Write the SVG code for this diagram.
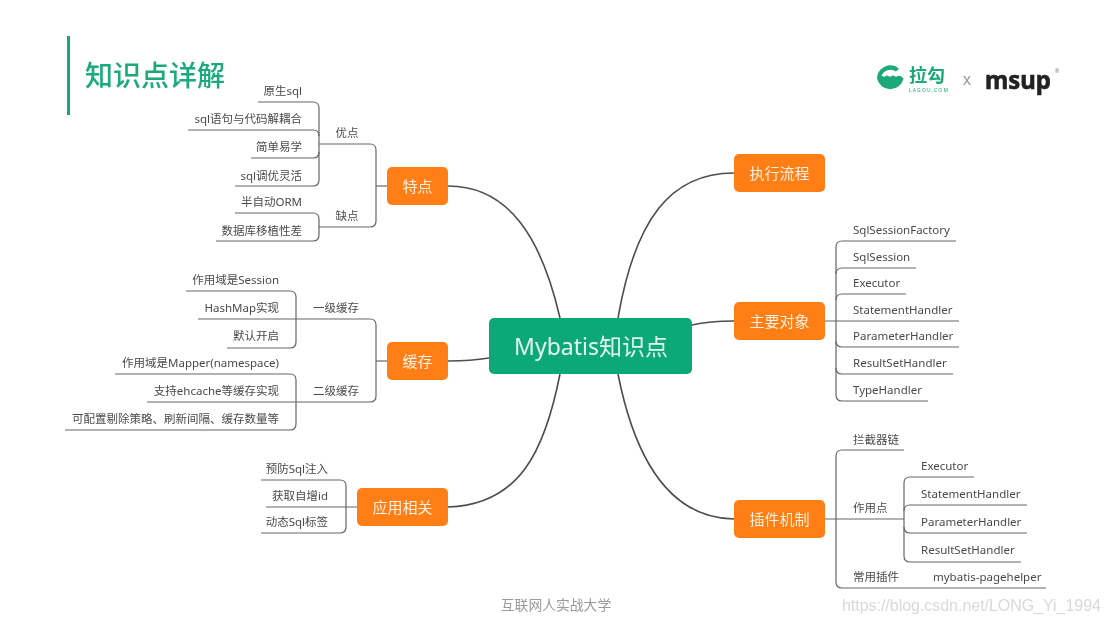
<svg xmlns="http://www.w3.org/2000/svg" width="1110" height="623" viewBox="0 0 1110 623">
<defs><filter id="soft" x="0" y="0" width="1" height="1"><feGaussianBlur stdDeviation="0.35"/></filter><style>
text{font-family:"Noto Sans","Noto Sans CJK SC",sans-serif;dominant-baseline:central}
.t{font-size:11.5px;fill:#4a4a4a}
.r{text-anchor:end}
.m{text-anchor:middle}
.n{fill:#ff7f17}
.nt{font-size:15px;fill:#fff1e2;text-anchor:middle}
.l{fill:none;stroke:#666;stroke-width:1.2}
.c{fill:none;stroke:#4d4d4d;stroke-width:1.6}
</style></defs>
<rect width="1110" height="623" fill="#fff"/>
<g filter="url(#soft)">
<g id="header">
<rect x="67" y="36" width="3" height="79" fill="#16a97c"/>
<text x="85" y="75" font-size="28" fill="#1ba97c" font-weight="500">知识点详解</text>
</g>
<g id="logos">
<path d="M877 79A13.500 13.500 0 0 1 899 68.500L896 71.500A9.500 9.500 0 0 0 881 79Z" fill="#1aa97a"/>
<path d="M877 78Q880.500 74 884 77Q887 74 890 77Q893 74 896 77Q900 74 903.500 78.500A13.500 13.500 0 0 1 877 78Z" fill="#1aa97a"/>
<text x="909" y="75" font-size="18" fill="#1aa97a" font-weight="700">拉勾</text>
<text x="909" y="90" font-size="5" fill="#1aa97a" textLength="39">LAGOU.COM</text>
<text x="967" y="79" font-size="16" fill="#999" class="m">x</text>
<text x="985" y="79" font-size="24.500" fill="#222" font-weight="700" stroke="#222" stroke-width="0.6" textLength="66" lengthAdjust="spacingAndGlyphs">msup</text>
<text x="1057" y="71" font-size="6" fill="#888" class="m">®</text>
</g>
<g id="connectors">
<path class="c" d="M448 186C510 186 542 240 560 318"/>
<path class="c" d="M448 361C465 361 477 360 489 358"/>
<path class="c" d="M448 507C520 505 545 450 560 374"/>
<path class="c" d="M734 173C670 173 635 220 618 318"/>
<path class="c" d="M692 325C705 322 718 321 734 321"/>
<path class="c" d="M734 519C670 518 635 460 618 374"/>
<path class="l" d="M387 186H376"/>
<path class="l" d="M319 144H370Q376 144 376 150V221Q376 227 370 227H319"/>
<path class="l" d="M258 102H313Q319 102 319 108V180Q319 186 313 186H235"/>
<path class="l" d="M188 130H313Q319 130 319 136"/>
<path class="l" d="M251 158H313Q319 158 319 152"/>
<path class="l" d="M235 213H313Q319 213 319 219V235Q319 241 313 241H216"/>
<path class="l" d="M387 361H376"/>
<path class="l" d="M198 319H370Q376 319 376 325V396Q376 402 370 402H147"/>
<path class="l" d="M186 291H290Q296 291 296 297V342Q296 348 290 348H227"/>
<path class="l" d="M115 374H290Q296 374 296 380V424Q296 430 290 430H65"/>
<path class="l" d="M266 507H357"/>
<path class="l" d="M261 480H340Q346 480 346 486V527Q346 533 340 533H261"/>
<path class="l" d="M825 321H959"/>
<path class="l" d="M956 241H842Q836 241 836 247V395Q836 401 842 401H928"/>
<path class="l" d="M916 268H842Q836 268 836 274"/>
<path class="l" d="M906 294H842Q836 294 836 300"/>
<path class="l" d="M959 347H842Q836 347 836 341"/>
<path class="l" d="M953 374H842Q836 374 836 368"/>
<path class="l" d="M825 519H904"/>
<path class="l" d="M904 450H842Q836 450 836 456V582Q836 588 842 588H1046"/>
<path class="l" d="M974 477H910Q904 477 904 483V556Q904 562 910 562H1021"/>
<path class="l" d="M1027 505H910Q904 505 904 511"/>
<path class="l" d="M1027 533H910Q904 533 904 527"/>
</g>
<g id="center"><rect x="489" y="318" width="203" height="56" rx="5" fill="#10a878"/><text x="591" y="345.500" font-size="23" fill="#e2f7ee" class="m">Mybatis知识点</text></g>
<g id="node-features"><rect class="n" x="387" y="167" width="61" height="38" rx="5"/><text class="nt" x="417.500" y="185.500">特点</text></g>
<g id="node-cache"><rect class="n" x="387" y="342" width="61" height="38" rx="5"/><text class="nt" x="417.500" y="360.500">缓存</text></g>
<g id="node-app"><rect class="n" x="357" y="488" width="91" height="38" rx="5"/><text class="nt" x="402.500" y="506.500">应用相关</text></g>
<g id="node-flow"><rect class="n" x="734" y="154" width="91" height="38" rx="5"/><text class="nt" x="779.500" y="172.500">执行流程</text></g>
<g id="node-objects"><rect class="n" x="734" y="302" width="91" height="38" rx="5"/><text class="nt" x="779.500" y="320.500">主要对象</text></g>
<g id="node-plugins"><rect class="n" x="734" y="500" width="91" height="38" rx="5"/><text class="nt" x="779.500" y="518.500">插件机制</text></g>
<g id="labels-features">
<text class="t r" x="302" y="90.500">原生sql</text>
<text class="t r" x="302" y="118.500">sql语句与代码解耦合</text>
<text class="t r" x="302" y="146.500">简单易学</text>
<text class="t r" x="302" y="175.500">sql调优灵活</text>
<text class="t r" x="302" y="201.500">半自动ORM</text>
<text class="t r" x="302" y="230.500">数据库移植性差</text>
<text class="t m" x="347" y="132.500">优点</text>
<text class="t m" x="347" y="215.500">缺点</text>
</g>
<g id="labels-cache">
<text class="t r" x="279" y="279.500">作用域是Session</text>
<text class="t r" x="279" y="307.500">HashMap实现</text>
<text class="t r" x="279" y="335.500">默认开启</text>
<text class="t r" x="279" y="362.500">作用域是Mapper(namespace)</text>
<text class="t r" x="279" y="390.500">支持ehcache等缓存实现</text>
<text class="t r" x="279" y="418.500">可配置剔除策略、刷新间隔、缓存数量等</text>
<text class="t m" x="336" y="307.500">一级缓存</text>
<text class="t m" x="336" y="390.500">二级缓存</text>
</g>
<g id="labels-app">
<text class="t r" x="328" y="468.500">预防Sql注入</text>
<text class="t r" x="328" y="495.500">获取自增id</text>
<text class="t r" x="328" y="521.500">动态Sql标签</text>
</g>
<g id="labels-objects">
<text class="t" x="853" y="229.500">SqlSessionFactory</text>
<text class="t" x="853" y="256.500">SqlSession</text>
<text class="t" x="853" y="282.500">Executor</text>
<text class="t" x="853" y="309.500">StatementHandler</text>
<text class="t" x="853" y="335.500">ParameterHandler</text>
<text class="t" x="853" y="362.500">ResultSetHandler</text>
<text class="t" x="853" y="389.500">TypeHandler</text>
</g>
<g id="labels-plugins">
<text class="t" x="853" y="439.500">拦截器链</text>
<text class="t" x="853" y="507.500">作用点</text>
<text class="t" x="853" y="576.500">常用插件</text>
<text class="t" x="933" y="576.500">mybatis-pagehelper</text>
<text class="t" x="921" y="465.500">Executor</text>
<text class="t" x="921" y="493.500">StatementHandler</text>
<text class="t" x="921" y="521.500">ParameterHandler</text>
<text class="t" x="921" y="549.500">ResultSetHandler</text>
</g>
<g id="footer">
<text x="556" y="604.500" font-size="13.800" fill="#9a9a9a" class="m">互联网人实战大学</text>
<text x="842" y="605" font-size="16" fill="#d9d9d9" style="font-family:'Liberation Sans',sans-serif" textLength="259">https://blog.csdn.net/LONG_Yi_1994</text>
</g>
</g>
</svg>
